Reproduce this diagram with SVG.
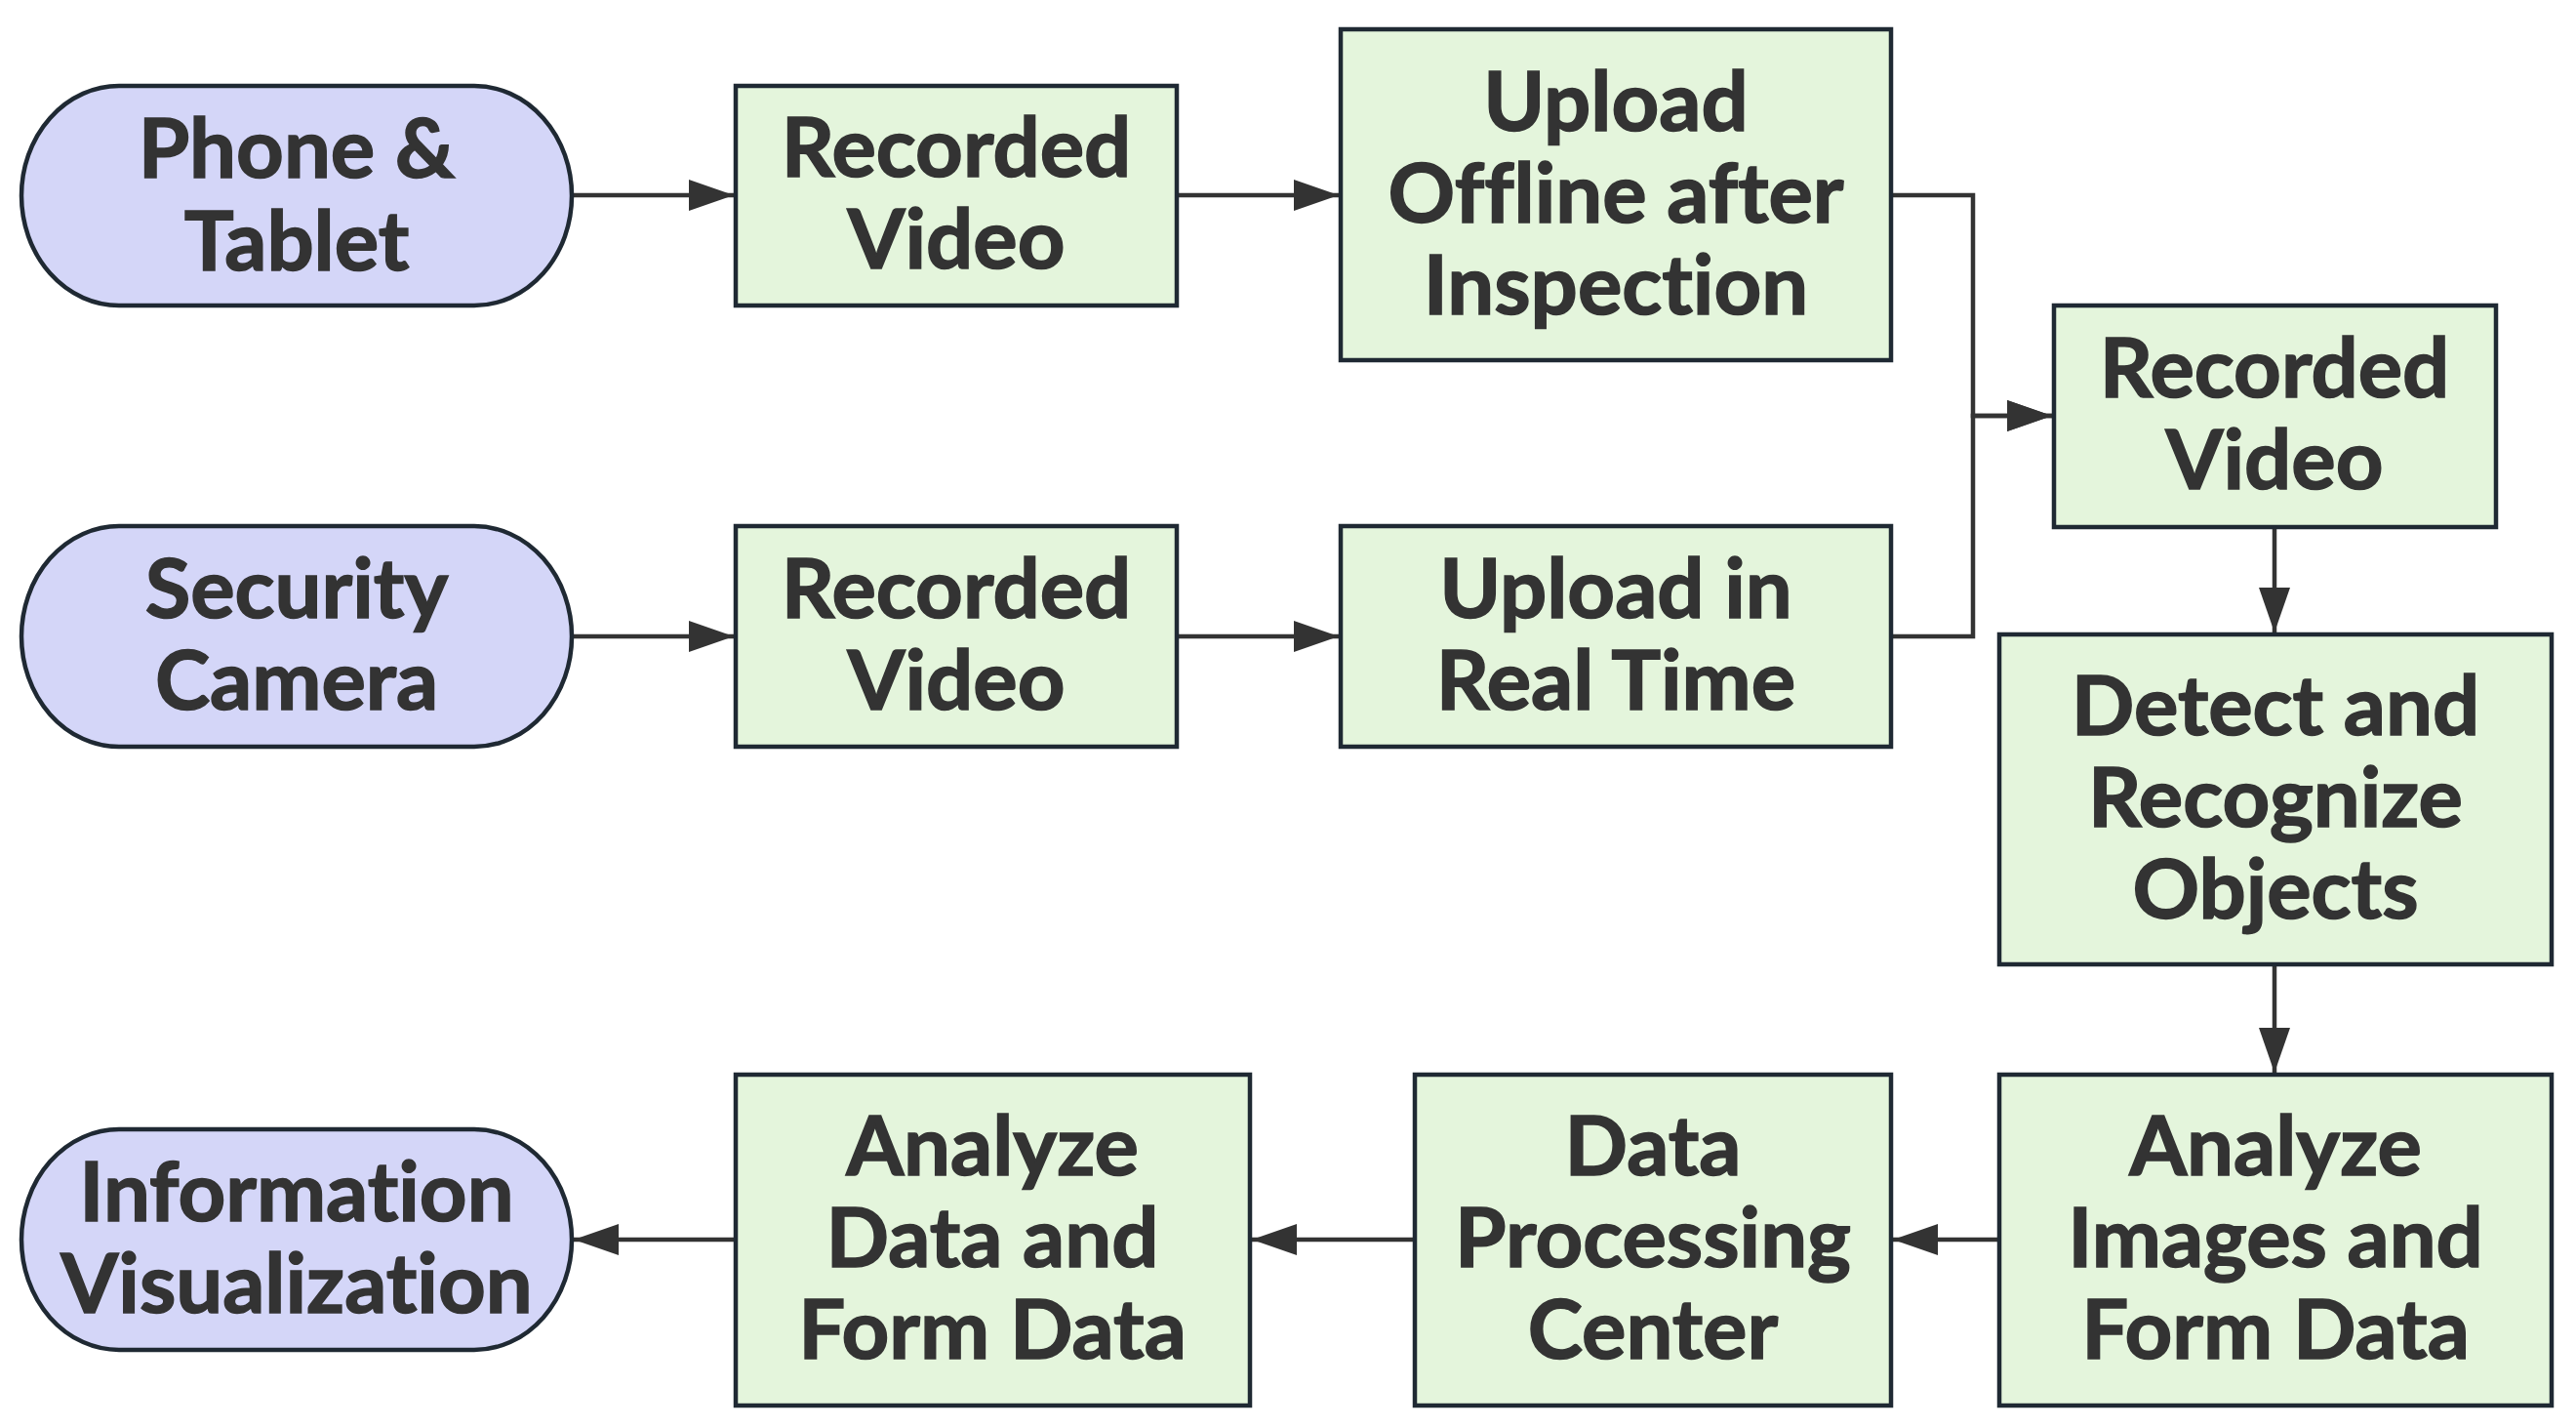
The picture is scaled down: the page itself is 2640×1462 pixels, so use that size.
<svg xmlns="http://www.w3.org/2000/svg" width="2640" height="1462" viewBox="0 0 2640 1462">
<defs>
<marker id="ah" markerWidth="46" markerHeight="32" refX="46" refY="16" orient="auto" markerUnits="userSpaceOnUse">
<path d="M0,0 L46,16 L0,32 Z" fill="#333333"/>
</marker>
<style>
.term{fill:#d4d6f8;stroke:#1f2933;stroke-width:4.5}
.proc{fill:#e4f5dc;stroke:#1f2933;stroke-width:4.5}
.lbl{font-family:Lato,"Noto Sans","DejaVu Sans",sans-serif;font-weight:bold;font-size:85px;fill:#333333;stroke:#333333;stroke-width:1.5;text-anchor:middle;font-variant-ligatures:none;font-feature-settings:"liga" 0,"clig" 0,"dlig" 0}
.edge{fill:none;stroke:#333333;stroke-width:4.5;marker-end:url(#ah)}
</style>
</defs>
<rect width="2640" height="1462" fill="#ffffff"/>
<g id="connectors">
<path class="edge" d="M586,200 H752"/>
<path class="edge" d="M1206,200 H1372"/>
<path class="edge" d="M586,652 H752"/>
<path class="edge" d="M1206,652 H1372"/>
<path class="edge" d="M1938,200 H2022 V426 H2103"/>
<path class="edge" d="M1938,652 H2022 V426 H2103"/>
<path class="edge" d="M2331,540 V648"/>
<path class="edge" d="M2331,988 V1099"/>
<path class="edge" d="M2049,1270 H1940"/>
<path class="edge" d="M1450,1270 H1283"/>
<path class="edge" d="M754,1270 H588"/>
</g>
<g id="phone">
<rect class="term" x="22" y="88" width="564" height="225" rx="100" ry="112.5"/>
<text class="lbl" x="304" y="182">Phone &amp;</text>
<text class="lbl" x="304" y="277">Tablet</text>
</g>
<g id="rv1">
<rect class="proc" x="754" y="88" width="452" height="225"/>
<text class="lbl" x="980" y="181">Recorded</text>
<text class="lbl" x="980" y="275">Video</text>
</g>
<g id="upoff">
<rect class="proc" x="1374" y="30" width="564" height="339"/>
<text class="lbl" x="1656" y="134">Upload</text>
<text class="lbl" x="1656" y="228">Offline after</text>
<text class="lbl" x="1656" y="322">Inspection</text>
</g>
<g id="security">
<rect class="term" x="22" y="539" width="564" height="226" rx="100" ry="113"/>
<text class="lbl" x="304" y="633">Security</text>
<text class="lbl" x="304" y="727">Camera</text>
</g>
<g id="rv2">
<rect class="proc" x="754" y="539" width="452" height="226"/>
<text class="lbl" x="980" y="633">Recorded</text>
<text class="lbl" x="980" y="727">Video</text>
</g>
<g id="uprt">
<rect class="proc" x="1374" y="539" width="564" height="226"/>
<text class="lbl" x="1656" y="633">Upload in</text>
<text class="lbl" x="1656" y="727">Real Time</text>
</g>
<g id="rv3">
<rect class="proc" x="2105" y="313" width="453" height="227"/>
<text class="lbl" x="2331" y="407">Recorded</text>
<text class="lbl" x="2331" y="501">Video</text>
</g>
<g id="detect">
<rect class="proc" x="2049" y="650" width="566" height="338"/>
<text class="lbl" x="2332" y="753">Detect and</text>
<text class="lbl" x="2332" y="847">Recognize</text>
<text class="lbl" x="2332" y="941">Objects</text>
</g>
<g id="anaimg">
<rect class="proc" x="2049" y="1101" width="566" height="339"/>
<text class="lbl" x="2332" y="1204">Analyze</text>
<text class="lbl" x="2332" y="1298">Images and</text>
<text class="lbl" x="2332" y="1392">Form Data</text>
</g>
<g id="dpc">
<rect class="proc" x="1450" y="1101" width="488" height="339"/>
<text class="lbl" x="1694" y="1204">Data</text>
<text class="lbl" x="1694" y="1298">Processing</text>
<text class="lbl" x="1694" y="1392">Center</text>
</g>
<g id="anadata">
<rect class="proc" x="754" y="1101" width="527" height="339"/>
<text class="lbl" x="1017" y="1204">Analyze</text>
<text class="lbl" x="1017" y="1298">Data and</text>
<text class="lbl" x="1017" y="1392">Form Data</text>
</g>
<g id="infovis">
<rect class="term" x="22" y="1157" width="564" height="226" rx="100" ry="113"/>
<text class="lbl" x="304" y="1251">Information</text>
<text class="lbl" x="304" y="1345">Visualization</text>
</g>
</svg>
